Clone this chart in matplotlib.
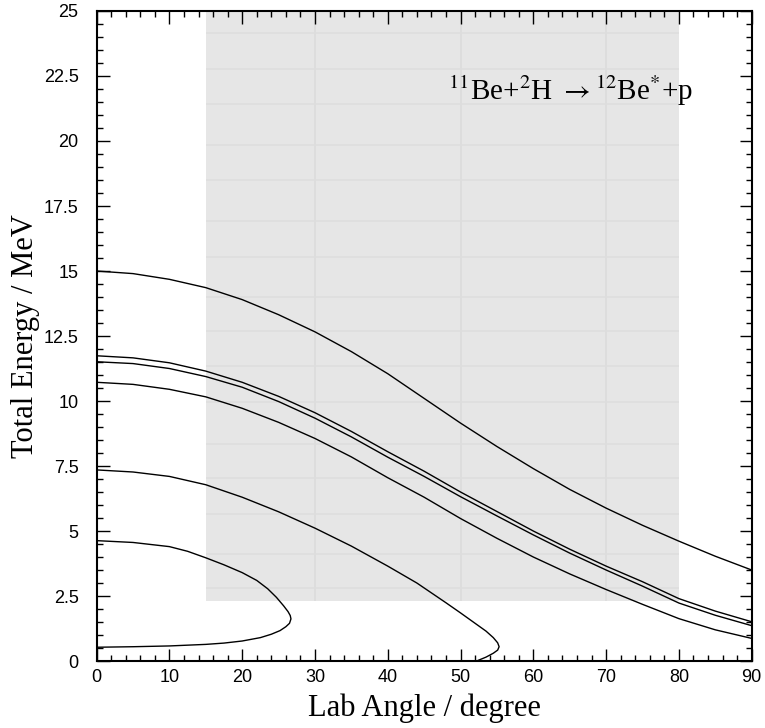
import matplotlib
matplotlib.use("Agg")
import matplotlib.pyplot as plt
from matplotlib.ticker import MultipleLocator

plt.rcParams["mathtext.fontset"] = "stix"

# ---------------------- Data -----------------------------------------------

# kinematic curves, lab angle (degree) vs total energy (MeV)
c1_angle = [0, 5, 10, 15, 20, 25, 30, 35, 40, 45, 50, 55, 60, 65, 70, 75, 80, 85, 90]
c1_energy = [15.0, 14.9, 14.68, 14.36, 13.9, 13.32, 12.66, 11.9, 11.05, 10.1, 9.15, 8.25, 7.4, 6.6, 5.88, 5.22, 4.61, 4.03, 3.5]

c2_angle = [0, 5, 10, 15, 20, 25, 30, 35, 40, 45, 50, 55, 60, 65, 70, 75, 80, 85, 90]
c2_energy = [11.74, 11.66, 11.47, 11.15, 10.72, 10.18, 9.55, 8.83, 8.05, 7.3, 6.5, 5.75, 5.0, 4.3, 3.65, 3.05, 2.4, 1.92, 1.51]

c3_angle = [0, 5, 10, 15, 20, 25, 30, 35, 40, 45, 50, 55, 60, 65, 70, 75, 80, 85, 90]
c3_energy = [11.51, 11.44, 11.25, 10.94, 10.53, 9.98, 9.34, 8.62, 7.84, 7.1, 6.32, 5.58, 4.85, 4.15, 3.5, 2.88, 2.23, 1.76, 1.36]

c4_angle = [0, 5, 10, 15, 20, 25, 30, 35, 40, 45, 50, 55, 60, 65, 70, 75, 80, 85, 90]
c4_energy = [10.72, 10.64, 10.45, 10.16, 9.72, 9.18, 8.56, 7.85, 7.05, 6.3, 5.48, 4.72, 4.0, 3.35, 2.75, 2.18, 1.63, 1.2, 0.87]

c5_angle = [0, 5, 10, 15, 20, 25, 30, 35, 40, 44, 48, 50, 52, 53.5, 54.5, 55.1, 55.3, 55.1, 54.5, 53.5, 52.2]
c5_energy = [7.35, 7.27, 7.1, 6.78, 6.3, 5.74, 5.11, 4.42, 3.65, 3.0, 2.24, 1.85, 1.45, 1.15, 0.9, 0.7, 0.55, 0.42, 0.3, 0.15, 0.0]

c6_angle = [0, 5, 10, 12.5, 15, 17.5, 20, 22, 23.5, 24.7, 25.7, 26.3, 26.6, 26.7,
            26.5, 26.0, 25.2, 24, 22.5, 20, 17.5, 15, 10, 5, 0]
c6_energy = [4.63, 4.56, 4.4, 4.22, 3.97, 3.7, 3.4, 3.1, 2.78, 2.45, 2.12, 1.9, 1.75, 1.62,
             1.45, 1.32, 1.17, 1.03, 0.9, 0.77, 0.69, 0.64, 0.58, 0.55, 0.53]

curves = [
    (c1_angle, c1_energy),
    (c2_angle, c2_energy),
    (c3_angle, c3_energy),
    (c4_angle, c4_energy),
    (c5_angle, c5_energy),
    (c6_angle, c6_energy),
]

# detector acceptance (shaded box)
shade_x = [15, 80]
shade_y = [2.3, 25]
shade_vlines = [30, 50, 70]
shade_hlines = [2.8, 4.13, 5.66, 7.04, 8.36, 9.97, 11.33, 12.68, 14.0, 15.55, 16.92, 18.5, 19.85, 21.42, 22.77, 24.15]

reaction = r"$^{11}$Be+$^{2}$H $\rightarrow$$^{12}$Be$^{*}$+p"

# ---------------------- Plot ------------------------

fig = plt.figure(figsize=(7.65, 7.28), dpi=100)
ax = fig.add_axes([0.1263, 0.092, 0.8563, 0.8929])

ax.fill_between(shade_x, shade_y[0], shade_y[1], color="#e6e6e6", lw=0, zorder=0)
ax.vlines(shade_vlines, shade_y[0], shade_y[1], color="#dcdcdc", lw=1.2, zorder=0.5)
ax.hlines(shade_hlines, shade_x[0], shade_x[1], color="#dedede", lw=1.2, zorder=0.5)

for xs, ys in curves:
    ax.plot(xs, ys, color="black", lw=1.0, zorder=2)

ax.text(48.3, 21.58, reaction, fontsize=21, family="Liberation Serif", va="baseline", ha="left")

ax.set_xlim(0, 90)
ax.set_ylim(0, 25)

ax.xaxis.set_major_locator(MultipleLocator(10))
ax.xaxis.set_minor_locator(MultipleLocator(2))
ax.yaxis.set_major_locator(MultipleLocator(2.5))
ax.yaxis.set_minor_locator(MultipleLocator(0.5))
ax.yaxis.set_major_formatter(plt.FuncFormatter(lambda v, p: f"{v:g}"))

ax.tick_params(which="both", direction="in", top=True, right=True, width=1.0, color="black")
ax.tick_params(which="major", length=9)
ax.tick_params(which="minor", length=4.5)
ax.tick_params(axis="x", which="major", pad=6)
ax.tick_params(axis="y", which="major", pad=13)
for lab in ax.get_xticklabels() + ax.get_yticklabels():
    lab.set_family("Liberation Sans")
    lab.set_fontsize(13)

for sp in ax.spines.values():
    sp.set_linewidth(1.5)

ax.set_xlabel("Lab Angle / degree", family="Liberation Serif", fontsize=22, labelpad=5)
ax.set_ylabel("Total Energy / MeV", family="Liberation Serif", fontsize=22, labelpad=3)

plt.savefig("out.png", dpi=100)
